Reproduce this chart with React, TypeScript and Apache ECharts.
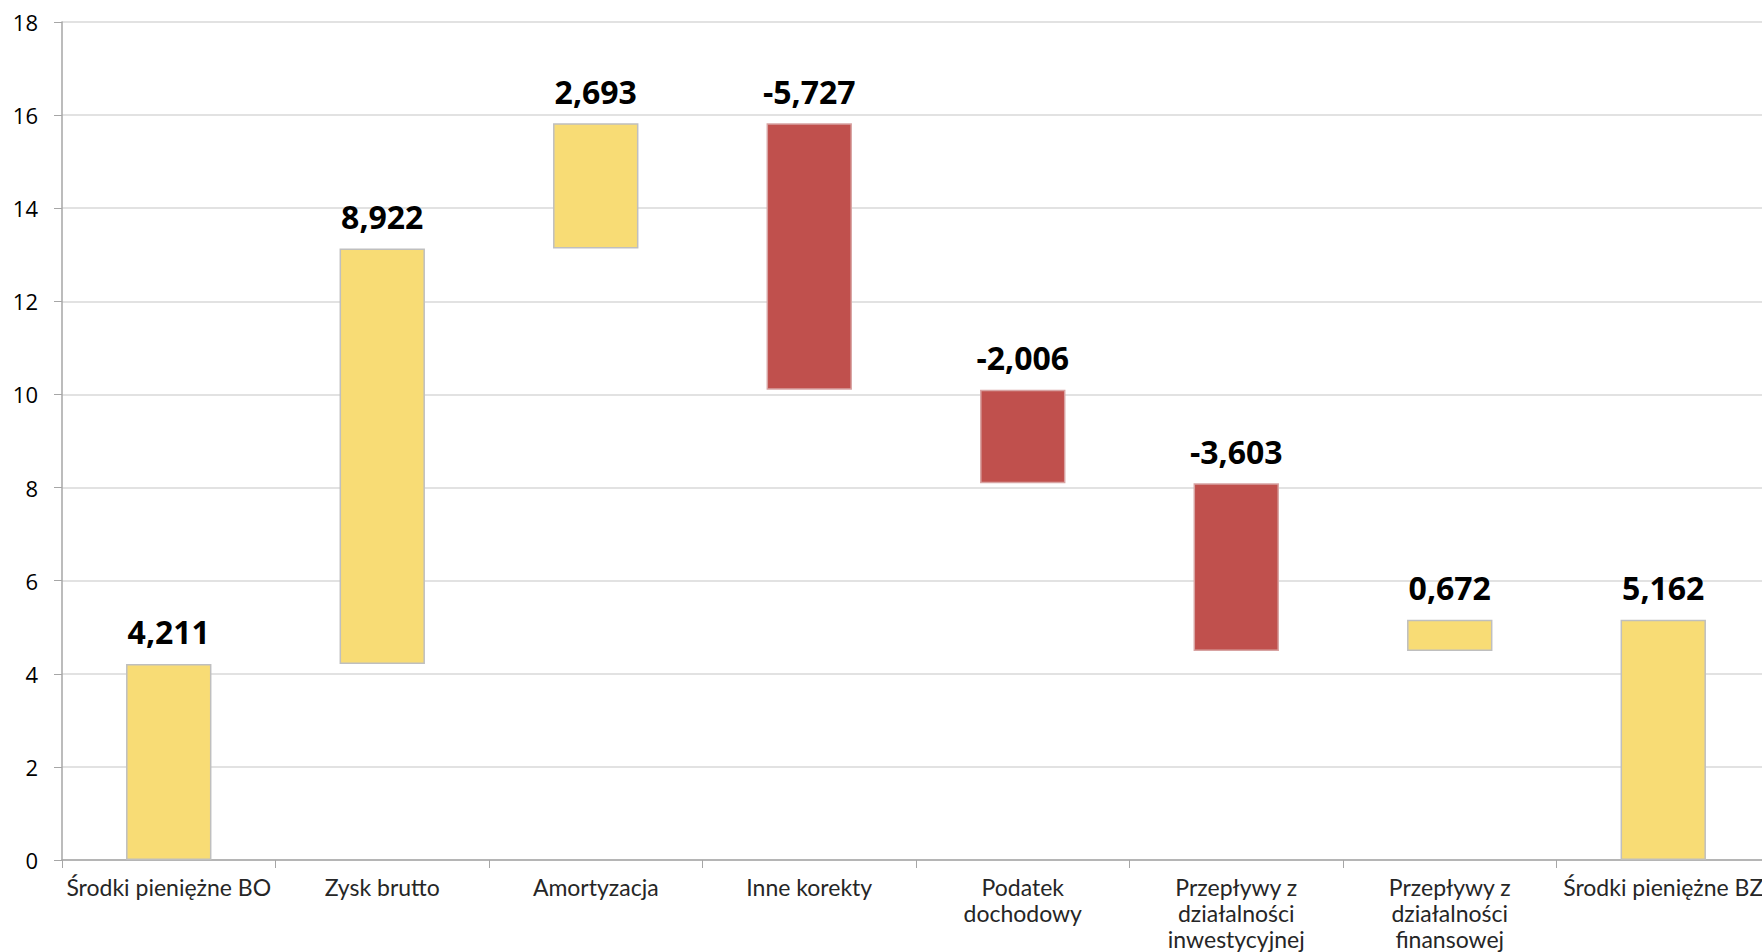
import React, { useEffect, useRef } from "react";
import * as echarts from "echarts";

const categories: string[] = [
  "Środki pieniężne BO",
  "Zysk brutto",
  "Amortyzacja",
  "Inne korekty",
  "Podatek\ndochodowy",
  "Przepływy z\ndziałalności\ninwestycyjnej",
  "Przepływy z\ndziałalności\nfinansowej",
  "Środki pieniężne BZ",
];
// changes (first and last are totals)
const values: number[] = [4.211, 8.922, 2.693, -5.727, -2.006, -3.603, 0.672, 5.162];
const isTotal: boolean[] = [true, false, false, false, false, false, false, true];
const yTicks = { min: 0, max: 18, interval: 2 };

const POS = "#F8DC75";
const NEG = "#C0504D";

export default function App() {
  const ref = useRef<HTMLDivElement>(null);
  useEffect(() => {
    if (!ref.current) return;
    const chart = echarts.init(ref.current, undefined, { renderer: "svg" });
    const base: number[] = [];
    const delta: any[] = [];
    let cum = 0;
    values.forEach((v, i) => {
      if (isTotal[i]) {
        base.push(0);
        cum = v;
        delta.push({ value: v, raw: v, itemStyle: { color: POS, borderColor: "#BFBFBF" } });
      } else {
        const next = cum + v;
        base.push(Math.min(cum, next));
        delta.push({
          value: Math.abs(v),
          raw: v,
          itemStyle: v >= 0 ? { color: POS, borderColor: "#BFBFBF" } : { color: NEG, borderColor: "#D8A3A2" },
        });
        cum = next;
      }
    });
    const fmt = (n: number) => n.toFixed(3).replace(".", ",");
    chart.setOption({
      animation: false,
      grid: { left: 62, top: 22, bottom: 92, right: 0, containLabel: false },
      xAxis: {
        type: "category",
        data: categories,
        axisLine: { show: true, lineStyle: { color: "#A6A6A6", width: 1.5 } },
        axisTick: { show: true, length: 8, alignWithLabel: false, lineStyle: { color: "#A6A6A6" } },
        axisLabel: {
          interval: 0,
          margin: 14,
          color: "#262626",
          fontFamily: "Lato, 'Open Sans', sans-serif",
          fontSize: 23,
          lineHeight: 26,
        },
      },
      yAxis: {
        type: "value",
        min: yTicks.min,
        max: yTicks.max,
        interval: yTicks.interval,
        axisLine: { show: true, lineStyle: { color: "#A6A6A6", width: 1.5 } },
        axisTick: { show: true, length: 8, lineStyle: { color: "#A6A6A6" } },
        splitLine: { show: true, lineStyle: { color: "#D9D9D9", width: 1.5 } },
        axisLabel: {
          margin: 24,
          color: "#000",
          fontFamily: "'Open Sans', sans-serif",
          fontSize: 22,
        },
      },
      series: [
        {
          type: "bar",
          stack: "w",
          data: base,
          itemStyle: { color: "transparent" },
          barWidth: "40%",
          silent: true,
        },
        {
          type: "bar",
          stack: "w",
          data: delta,
          barWidth: "40%",
          itemStyle: { borderWidth: 1.5 },
          label: {
            show: true,
            position: "top",
            distance: 16,
            color: "#000",
            fontFamily: "'Open Sans', sans-serif",
            fontWeight: "bold",
            fontSize: 32,
            formatter: (p: any) => fmt(p.data.raw),
          },
        },
      ],
    });
    return () => chart.dispose();
  }, []);
  return (
    <div
      style={{
        position: "fixed",
        left: 0,
        top: 0,
        width: 1762,
        height: 952,
        overflow: "hidden",
        background: "#fff",
      }}
    >
      <div ref={ref} style={{ position: "absolute", left: 0, top: 0, width: 1770, height: 952 }} />
    </div>
  );
}
